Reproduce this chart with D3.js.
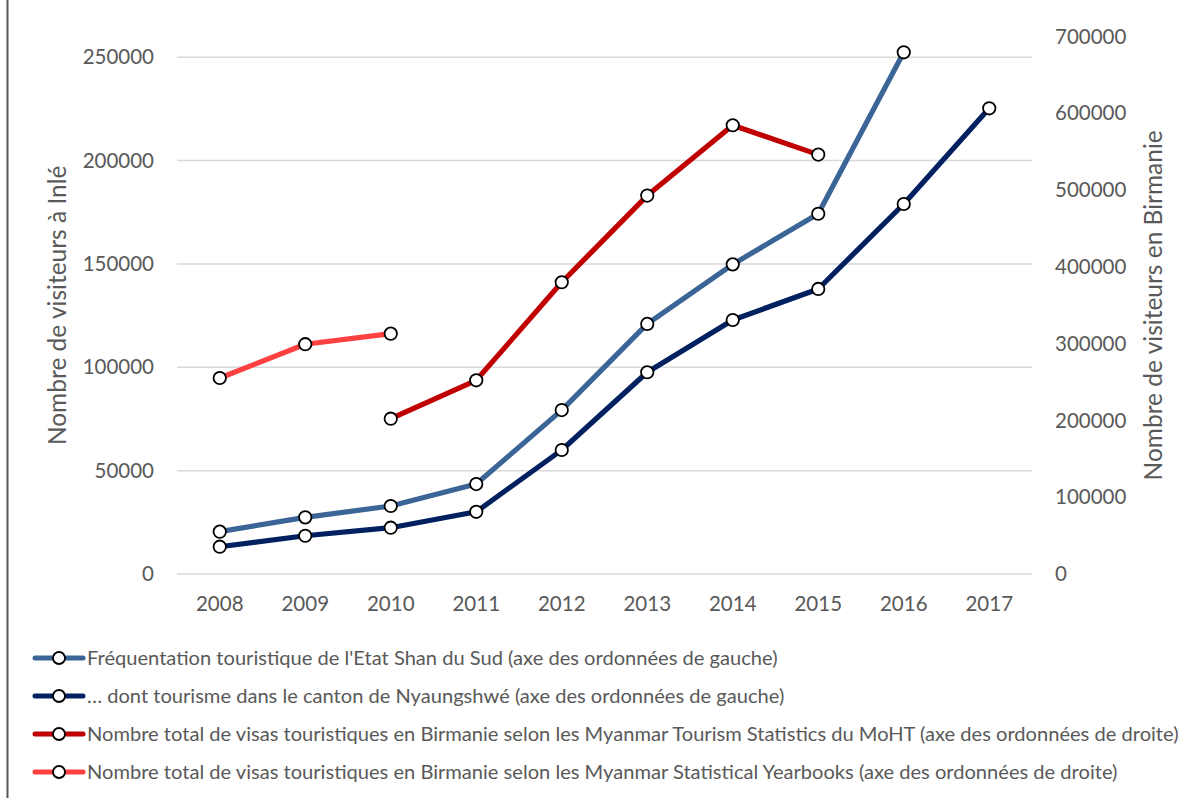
<!DOCTYPE html>
<html>
<head>
<meta charset="utf-8">
<script src="https://cdn.jsdelivr.net/npm/d3@7"></script>
<style>
  body { margin: 0; background: #fff; }
  svg { display: block; font-family: Lato, "Open Sans", sans-serif; }
</style>
</head>
<body>
<svg id="chart" width="1188" height="798"></svg>
<script>
// categories and values
var years = [2008, 2009, 2010, 2011, 2012, 2013, 2014, 2015, 2016, 2017];
var shanSud = [20500, 27400, 32900, 43500, 79300, 121000, 149800, 174300, 252400, null];
var nyaungshwe = [13200, 18500, 22400, 30100, 60000, 97600, 122900, 137900, 179000, 225300];
var visasMoHT = [null, null, 202300, 252300, 380000, 492900, 584500, 546300, null, null];
var visasYearbooks = [255300, 299300, 313100, null, null, null, null, null, null, null];

var leftTicks = [0, 50000, 100000, 150000, 200000, 250000];
var rightTicks = [0, 100000, 200000, 300000, 400000, 500000, 600000, 700000];

var series = [
    { name: "Fréquentation touristique de l'Etat Shan du Sud (axe des ordonnées de gauche)", values: shanSud, axis: "left", color: "#3b6596" },
    { name: "… dont tourisme dans le canton de Nyaungshwé (axe des ordonnées de gauche)", values: nyaungshwe, axis: "left", color: "#002060" },
    { name: "Nombre total de visas touristiques en Birmanie selon les Myanmar Tourism Statistics du MoHT (axe des ordonnées de droite)", values: visasMoHT, axis: "right", color: "#c00000" },
    { name: "Nombre total de visas touristiques en Birmanie selon les Myanmar Statistical Yearbooks (axe des ordonnées de droite)", values: visasYearbooks, axis: "right", color: "#ff4040" }
];

var svg = d3.select("#chart");
var textColor = "#595959";

var plot = { left: 177, right: 1032, top: 36.6, bottom: 574 };

var x = d3.scaleBand()
    .domain(years)
    .range([plot.left, plot.right]);

var yLeft = d3.scaleLinear()
    .domain([0, 260000])
    .range([plot.bottom, plot.top]);

var yRight = d3.scaleLinear()
    .domain([0, 700000])
    .range([plot.bottom, plot.top]);

// frame edge on the left
svg.append("line")
    .attr("x1", 7.5).attr("x2", 7.5)
    .attr("y1", 0).attr("y2", 798)
    .attr("stroke", "#555")
    .attr("stroke-width", 2);

// gridlines follow the left axis
svg.append("g")
    .selectAll("line")
    .data(leftTicks)
    .join("line")
    .attr("x1", plot.left).attr("x2", plot.right)
    .attr("y1", d => yLeft(d)).attr("y2", d => yLeft(d))
    .attr("stroke", "#d9d9d9")
    .attr("stroke-width", 1.5);

var axisLeft = svg.append("g")
    .attr("transform", "translate(" + (plot.left - 23) + ",0)")
    .call(d3.axisLeft(yLeft).tickValues(leftTicks).tickFormat(d3.format("d")).tickSize(0).tickPadding(0));

var axisRight = svg.append("g")
    .attr("transform", "translate(" + (plot.right + 23) + ",0)")
    .call(d3.axisRight(yRight).tickValues(rightTicks).tickFormat(d3.format("d")).tickSize(0).tickPadding(0));

var axisBottom = svg.append("g")
    .attr("transform", "translate(0," + (plot.bottom + 22) + ")")
    .call(d3.axisBottom(x).tickSize(0).tickPadding(0));

[axisLeft, axisRight, axisBottom].forEach(function(g) {
    g.select(".domain").remove();
    g.selectAll("text")
        .attr("fill", textColor)
        .style("font-size", "20.5px")
        .style("font-family", "Lato, sans-serif");
});
axisBottom.selectAll("text").attr("dy", "0.71em");

// axis titles
svg.append("text")
    .attr("transform", "translate(66," + ((plot.top + plot.bottom) / 2) + ") rotate(-90)")
    .attr("text-anchor", "middle")
    .attr("fill", textColor)
    .style("font-size", "24.5px")
    .text("Nombre de visiteurs à Inlé");

svg.append("text")
    .attr("transform", "translate(1162," + ((plot.top + plot.bottom) / 2) + ") rotate(-90)")
    .attr("text-anchor", "middle")
    .attr("fill", textColor)
    .style("font-size", "24.5px")
    .text("Nombre de visiteurs en Birmanie");

// lines and markers
series.forEach(function(s) {
    var y = s.axis === "left" ? yLeft : yRight;
    var pts = years.map((yr, i) => ({ year: yr, value: s.values[i] }));
    var line = d3.line()
        .defined(d => d.value !== null)
        .x(d => x(d.year) + x.bandwidth() / 2)
        .y(d => y(d.value));

    svg.append("path")
        .datum(pts)
        .attr("d", line)
        .attr("fill", "none")
        .attr("stroke", s.color)
        .attr("stroke-width", 5.2)
        .attr("stroke-linejoin", "round");

    svg.append("g")
        .selectAll("circle")
        .data(pts.filter(d => d.value !== null))
        .join("circle")
        .attr("cx", d => x(d.year) + x.bandwidth() / 2)
        .attr("cy", d => y(d.value))
        .attr("r", 6.2)
        .attr("fill", "#fff")
        .attr("stroke", "#000")
        .attr("stroke-width", 1.8);
});

// legend
var legend = svg.append("g");
var rows = legend.selectAll("g")
    .data(series)
    .join("g")
    .attr("transform", (d, i) => "translate(35," + (658 + i * 38) + ")");

rows.append("line")
    .attr("x1", 0).attr("x2", 48)
    .attr("stroke", d => d.color)
    .attr("stroke-width", 5)
    .attr("stroke-linecap", "round");

rows.append("circle")
    .attr("cx", 24)
    .attr("r", 6)
    .attr("fill", "#fff")
    .attr("stroke", "#000")
    .attr("stroke-width", 1.8);

rows.append("text")
    .attr("x", 52)
    .attr("dy", "0.35em")
    .attr("fill", textColor)
    .style("font-size", "20.1px")
    .text(d => d.name);
</script>
</body>
</html>
